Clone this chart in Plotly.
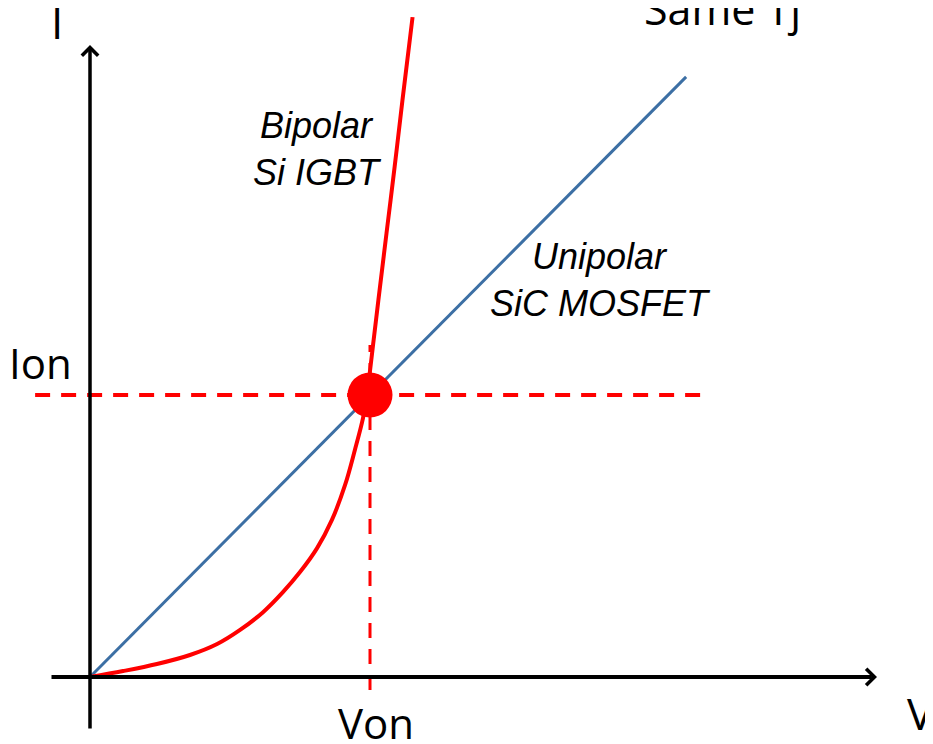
import plotly.graph_objects as go

# ---- data (normalised: Von = 1, Ion = 1) ----
igbt_v = [0.0, 0.118, 0.239, 0.357, 0.454, 0.536, 0.618, 0.689, 0.750, 0.811, 0.864,
          0.911, 0.946, 0.975, 0.989, 1.013, 1.030, 1.059, 1.088, 1.116, 1.152]
igbt_i = [0.0, 0.021, 0.046, 0.078, 0.117, 0.167, 0.230, 0.301, 0.372, 0.457, 0.557,
          0.681, 0.805, 0.918, 1.000, 1.195, 1.337, 1.574, 1.809, 2.046, 2.340]
mosfet_v = [0.0, 2.129]
mosfet_i = [0.0, 2.128]
von = 1.0
ion = 1.0
ion_line_v = [-0.196, 2.196]
von_line_i = [-0.046, 1.177]

OFF = 8                      # page body margin
W, H = 933 - OFF, 744 - OFF
X0, Y0, SX, SY = 90 - OFF, 677 - OFF, 280, 282  # origin pixel & pixel per unit


def px(x):
    return (x - OFF) / W


def py(y):
    return 1 - (y - OFF) / H


fig = go.Figure()

fig.add_trace(go.Scatter(x=mosfet_v, y=mosfet_i, mode="lines",
                         line=dict(color="#3C6FA4", width=3), hoverinfo="skip"))
fig.add_trace(go.Scatter(x=igbt_v, y=igbt_i, mode="lines",
                         line=dict(color="#FF0000", width=4, shape="spline", smoothing=1.0),
                         hoverinfo="skip"))
fig.add_trace(go.Scatter(x=ion_line_v, y=[ion, ion], mode="lines",
                         line=dict(color="#FF0000", width=4, dash="15px,11px"), hoverinfo="skip"))
fig.add_trace(go.Scatter(x=[von, von], y=von_line_i, mode="lines",
                         line=dict(color="#FF0000", width=3, dash="15px,11px"), hoverinfo="skip"))
fig.add_trace(go.Scatter(x=[von], y=[ion], mode="markers",
                         marker=dict(color="#FF0000", size=45, line=dict(width=0)),
                         hoverinfo="skip"))

# axes arrows
fig.add_annotation(x=(877 - 90) / SX, y=0, ax=(50 - 90) / SX, ay=0,
                   xref="x", yref="y", axref="x", ayref="y",
                   showarrow=True, arrowhead=4, arrowsize=0.8, arrowwidth=4,
                   arrowcolor="black", text="")
fig.add_annotation(x=0, y=(677 - 45) / SY, ax=0, ay=(677 - 730) / SY,
                   xref="x", yref="y", axref="x", ayref="y",
                   showarrow=True, arrowhead=4, arrowsize=0.9, arrowwidth=3.5,
                   arrowcolor="black", text="")

cal = "Liberation Sans Narrow, Open Sans, sans-serif"
ari = "Liberation Sans, Arial, sans-serif"

labels = [
    ("I", 57, 22, cal, 44),
    ("Same Tj", 722, 8, cal, 43),
    ("Ion", 40, 362, cal, 42),
    ("Von", 376, 722, cal, 42),
    ("V", 920, 713, cal, 44),
    ("<i>Bipolar<br>Si IGBT</i>", 317, 149, ari, 36),
    ("<i>Unipolar<br>SiC MOSFET</i>", 600, 280, ari, 36),
]
for t, x, y, f, s in labels:
    fig.add_annotation(x=px(x), y=py(y), xref="paper", yref="paper", text=t,
                       showarrow=False, xanchor="center", yanchor="middle",
                       font=dict(family=f, size=s, color="black"), align="center")

fig.update_layout(
    width=W, height=H, autosize=False,
    margin=dict(l=0, r=0, t=0, b=0),
    paper_bgcolor="white", plot_bgcolor="white",
    showlegend=False,
    xaxis=dict(range=[-X0 / SX, (W - X0) / SX], visible=False, fixedrange=True),
    yaxis=dict(range=[-(H - Y0) / SY, Y0 / SY], visible=False, fixedrange=True),
)

fig.write_html("out.html")
